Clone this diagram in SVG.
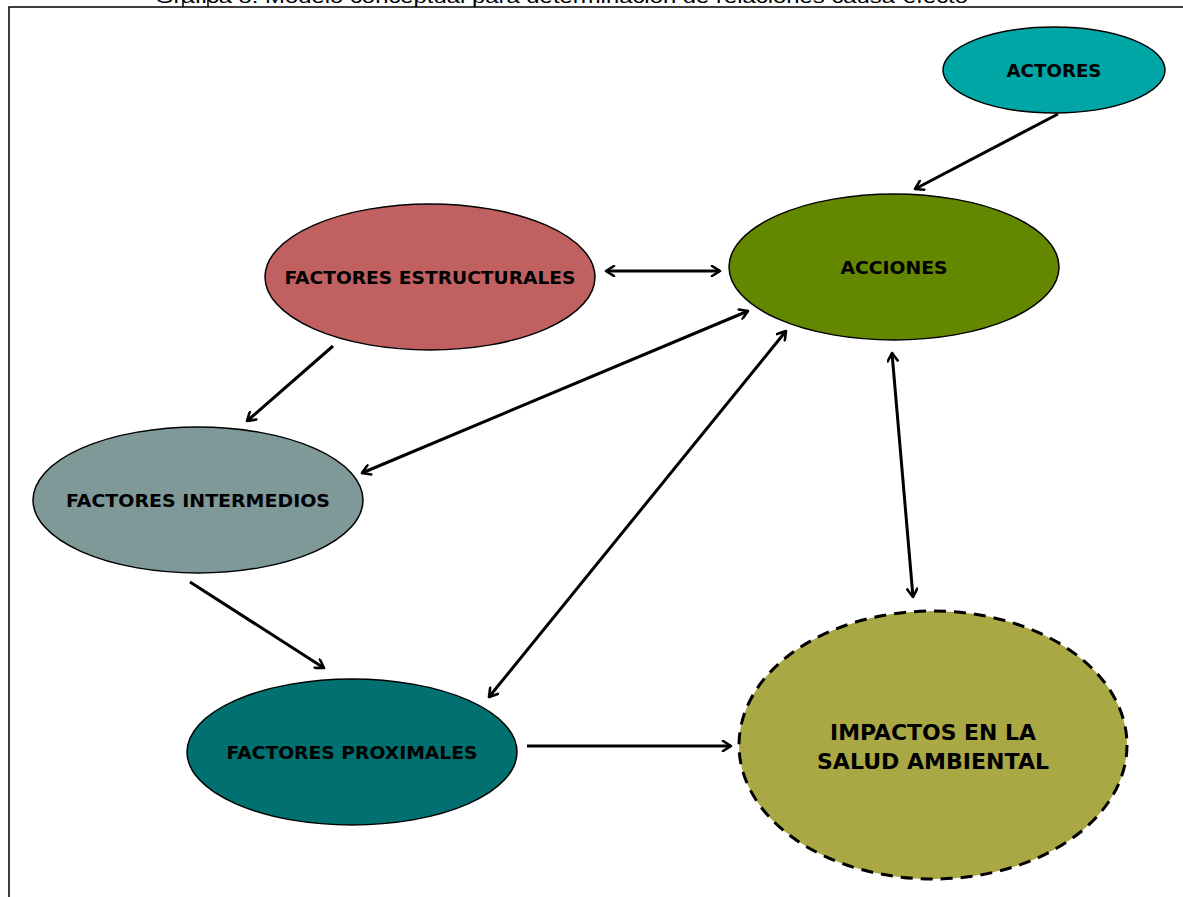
<svg xmlns="http://www.w3.org/2000/svg" width="1183" height="897" viewBox="0 0 1183 897">
<defs>
<style>
.lbl{font-family:"DejaVu Sans",Verdana,sans-serif;font-weight:bold;fill:#000;text-anchor:middle;dominant-baseline:central}
.node{stroke:#000;stroke-width:1.5}
.con{stroke:#000;stroke-width:3;fill:none}
</style>
<marker id="ah" viewBox="0 0 12 12" refX="10" refY="6" markerWidth="12" markerHeight="12" markerUnits="userSpaceOnUse" orient="auto-start-reverse">
<path d="M2,1 L10,6 L2,11" fill="none" stroke="#000" stroke-width="2.6" stroke-linecap="round" stroke-linejoin="round"/>
</marker>
</defs>
<rect width="1183" height="897" fill="#fff"/>
<text x="155" y="3" font-family="Liberation Sans,Arial,sans-serif" font-size="19" textLength="813" lengthAdjust="spacingAndGlyphs">Gráfica 8. Modelo conceptual para determinación de relaciones causa-efecto</text>
<path d="M9,897 V7 H1183 M183,0 V7 M208,0 V7" stroke="#000" stroke-width="1.5" fill="none"/>
<g id="connectors">
<line class="con" x1="1058" y1="114" x2="915" y2="189" marker-end="url(#ah)"/>
<line class="con" x1="606" y1="271" x2="720" y2="271" marker-start="url(#ah)" marker-end="url(#ah)"/>
<line class="con" x1="333" y1="346" x2="247" y2="421" marker-end="url(#ah)"/>
<line class="con" x1="362" y1="473" x2="748" y2="311" marker-start="url(#ah)" marker-end="url(#ah)"/>
<line class="con" x1="489" y1="697" x2="786" y2="331" marker-start="url(#ah)" marker-end="url(#ah)"/>
<line class="con" x1="892" y1="353" x2="913" y2="597" marker-start="url(#ah)" marker-end="url(#ah)"/>
<line class="con" x1="190" y1="582" x2="324" y2="668" marker-end="url(#ah)"/>
<line class="con" x1="527" y1="746" x2="731" y2="746" marker-end="url(#ah)"/>
</g>
<g id="actores">
<ellipse class="node" cx="1054" cy="70" rx="111" ry="43" fill="#00A6A6"/>
<text class="lbl" x="1054" y="71" font-size="17" textLength="95" lengthAdjust="spacingAndGlyphs">ACTORES</text>
</g>
<g id="acciones">
<ellipse class="node" cx="894" cy="267" rx="165" ry="73" fill="#638800"/>
<text class="lbl" x="894" y="268" font-size="17" textLength="107" lengthAdjust="spacingAndGlyphs">ACCIONES</text>
</g>
<g id="estructurales">
<ellipse class="node" cx="430" cy="277" rx="165" ry="73" fill="#C06060"/>
<text class="lbl" x="430" y="278" font-size="17" textLength="291" lengthAdjust="spacingAndGlyphs">FACTORES ESTRUCTURALES</text>
</g>
<g id="intermedios">
<ellipse class="node" cx="198" cy="500" rx="165" ry="73" fill="#7F9898"/>
<text class="lbl" x="198" y="501" font-size="17" textLength="264" lengthAdjust="spacingAndGlyphs">FACTORES INTERMEDIOS</text>
</g>
<g id="proximales">
<ellipse class="node" cx="352" cy="752" rx="165" ry="73" fill="#007070"/>
<text class="lbl" x="352" y="753" font-size="17" textLength="251" lengthAdjust="spacingAndGlyphs">FACTORES PROXIMALES</text>
</g>
<g id="impactos">
<ellipse cx="933" cy="745" rx="194" ry="134" fill="#A9A844" stroke="#000" stroke-width="3" stroke-dasharray="12,8"/>
<text class="lbl" x="933" y="732" font-size="22" textLength="206" lengthAdjust="spacingAndGlyphs">IMPACTOS EN LA</text>
<text class="lbl" x="933" y="761" font-size="22" textLength="232" lengthAdjust="spacingAndGlyphs">SALUD AMBIENTAL</text>
</g>
</svg>
